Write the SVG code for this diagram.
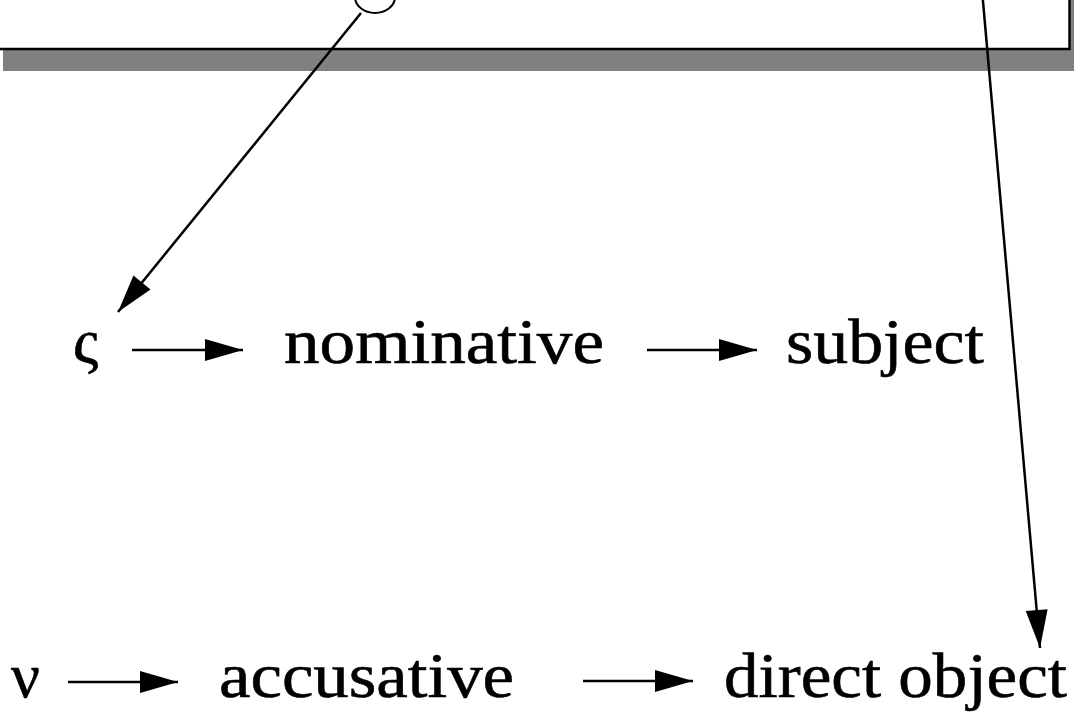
<svg xmlns="http://www.w3.org/2000/svg" width="1074" height="713" viewBox="0 0 1074 713">
<style>
.lbl{font-family:"Liberation Serif","Times New Roman",serif;font-size:64px;fill:#000;stroke:#000;stroke-width:0.6}
.edge{stroke:#000;stroke-width:2.5;fill:none;marker-end:url(#ah)}
</style>
<defs>
<marker id="ah" markerUnits="userSpaceOnUse" markerWidth="40" markerHeight="24" refX="38" refY="12" orient="auto" overflow="visible">
<path d="M0,1 L38,12 L0,23 z" fill="#000"/>
</marker>
</defs>
<rect width="1074" height="713" fill="#fff"/>
<g id="box">
<rect x="3" y="-20" width="1100" height="91" fill="#808080"/>
<rect x="-20" y="-20" width="1089.5" height="69" fill="#fff" stroke="#000" stroke-width="2.5"/>
</g>
<g id="ellipse-node">
<ellipse cx="375" cy="-3" rx="20" ry="16" fill="#fff" stroke="#000" stroke-width="2"/>
</g>
<g id="connectors">
<line class="edge" x1="361" y1="13" x2="118" y2="312"/>
<line class="edge" x1="982" y1="-10" x2="1040" y2="648"/>
<line class="edge" x1="132" y1="350" x2="243" y2="350"/>
<line class="edge" x1="647" y1="350" x2="757" y2="350"/>
<line class="edge" x1="68" y1="682" x2="178" y2="682"/>
<line class="edge" x1="583" y1="681" x2="693" y2="681"/>
</g>
<g id="sigma"><text class="lbl" x="73" y="363">ς</text></g>
<g id="nominative"><text class="lbl" x="284" y="363" textLength="320" lengthAdjust="spacingAndGlyphs">nominative</text></g>
<g id="subject"><text class="lbl" x="786" y="363" textLength="198" lengthAdjust="spacingAndGlyphs">subject</text></g>
<g id="nu"><text class="lbl" x="11" y="697">ν</text></g>
<g id="accusative"><text class="lbl" x="219" y="697" textLength="295" lengthAdjust="spacingAndGlyphs">accusative</text></g>
<g id="direct-object"><text class="lbl" x="724" y="697" textLength="343" lengthAdjust="spacingAndGlyphs">direct object</text></g>
</svg>
